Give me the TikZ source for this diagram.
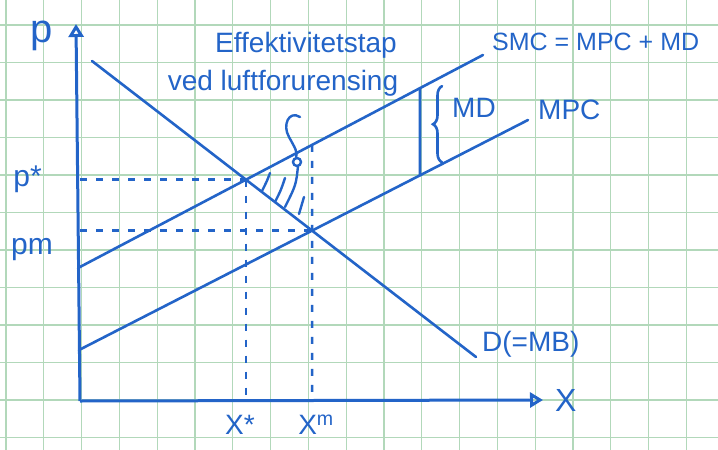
\documentclass[tikz,border=0pt]{standalone}
\usepackage{fontspec}
\setmainfont{Liberation Sans}
\usetikzlibrary{positioning,calc,arrows.meta,decorations.pathreplacing}
\definecolor{ink}{RGB}{35,100,200}
\definecolor{gridgreen}{RGB}{178,216,186}

\begin{document}
\begin{tikzpicture}[x=1pt, y=-1pt, >={Triangle[open,length=13pt,width=15pt]},
  font=\fontsize{28}{30}\selectfont,
  gridline/.style={draw=gridgreen, line width=1.1pt},
  curve/.style={draw=ink, line width=2.6pt, line cap=round},
  axisline/.style={draw=ink, line width=3pt},
  guide/.style={draw=ink, line width=2.4pt, dash pattern=on 7pt off 9pt},
  hatch/.style={draw=ink, line width=2.4pt, line cap=round},
  lbl/.style={text=ink, inner sep=0pt}]
\useasboundingbox (0,0) rectangle (718,450);
\clip (0,0) rectangle (718,450);
\fill[white] (0,0) rectangle (718,450);
\foreach \i in {0,...,18} \draw[gridline] ({6+37.8*\i},0) -- ({6+37.8*\i},450);
\foreach \j in {0,...,11} \draw[gridline] (0,{25+37.5*\j}) -- (718,{25+37.5*\j});

\coordinate (O) at (80,401);
\coordinate (ytop) at (76,24);
\coordinate (xend) at (543,400);
\coordinate (D0) at (92,61);
\coordinate (D1) at (476,357);
\coordinate (S0) at (78,268);
\coordinate (S1) at (483,55);
\coordinate (M0) at (79,350);
\coordinate (M1) at (528,120);
\coordinate (Es) at (intersection of D0--D1 and S0--S1);
\coordinate (Em) at (intersection of D0--D1 and M0--M1);
\coordinate (Emb) at (Em |- O);
\coordinate (Et) at (intersection of S0--S1 and Em--Emb);
\coordinate (mdt) at (intersection of S0--S1 and {420,0}--{420,450});
\coordinate (mdb) at (intersection of M0--M1 and {420,0}--{420,450});

\draw[axisline,->] (O) -- (ytop);
\draw[axisline,->] (O) -- (xend);
\draw[curve] (D0) -- (D1);
\draw[curve] (S0) -- (S1);
\draw[curve] (M0) -- (M1);

\draw[guide] (Es -| O) -- (Es);
\draw[guide] (Es) -- (Es |- O);
\draw[guide] (Em -| O) -- (Em);
\draw[guide] (Et) -- (Emb);

\draw[curve] (mdt) -- (mdb);
\draw[curve, decorate, decoration={brace, amplitude=9pt}] ($(mdb)+(22,-13)$) -- ($(mdt)+(22,-2)$);

\draw[hatch] (270,173) .. controls (267,181) .. (262,191);
\draw[hatch] (285,178) .. controls (281,190) .. (275,202);
\draw[hatch] (298,166) .. controls (296,185) .. (285,207);
\draw[hatch] (304,197) .. controls (302,206) .. (299,214);
\draw[hatch] (300,117) .. controls (289,110) and (282,125) .. (289,137) .. controls (295,148) and (298,152) .. (296,158);
\draw[hatch] (297,162) circle (4);

\node[lbl, font=\fontsize{40}{42}\selectfont] (plbl) at (42,36) {p};
\node[lbl, font=\fontsize{30}{32}\selectfont, left=38pt of {Es -| O}] (pstar) {p*};
\node[lbl, font=\fontsize{30}{32}\selectfont] (pm) at (32,250) {pm};
\node[lbl, below=14pt of {Es |- O}, xshift=-6pt] (xstar) {X*};
\node[lbl, below=14pt of Emb, xshift=4pt] (xm) {X\textsuperscript{m}};
\node[lbl, font=\fontsize{32}{34}\selectfont, right=12pt of xend] (xlbl) {X};
\node[lbl, anchor=south west] (dlbl) at ($(D1)+(6,0)$) {D(=MB)};
\node[lbl, anchor=west, font=\fontsize{25}{27}\selectfont] (smclbl) at ($(S1)+(9,-13)$) {SMC = MPC + MD};
\node[lbl, anchor=west] (mpclbl) at ($(M1)+(10,-10)$) {MPC};
\node[lbl, anchor=west] (mdlbl) at (452,108) {MD};
\node[lbl] (efftop) at (306,45) {Effektivitetstap};
\node[lbl] (effbot) at (283,83) {ved luftforurensing};
\end{tikzpicture}
\end{document}
